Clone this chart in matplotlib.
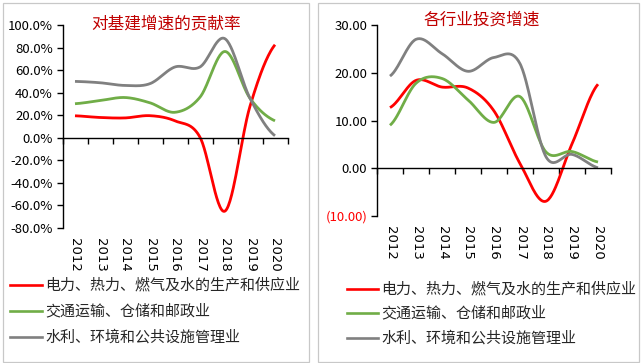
import numpy as np
import matplotlib.pyplot as plt
from matplotlib.patches import Rectangle

plt.rcParams['font.family'] = ['Noto Sans CJK SC', 'DejaVu Sans']

years = ['2012', '2013', '2014', '2015', '2016', '2017', '2018', '2019', '2020']
series_names = ['电力、热力、燃气及水的生产和供应业', '交通运输、仓储和邮政业', '水利、环境和公共设施管理业']
colors = ['#FF0000', '#70AD47', '#808080']

# contribution to infrastructure growth (%)
contrib_power = [19.5, 18.0, 17.6, 19.6, 15.0, 0.5, -65.0, 28.0, 82.5]
contrib_transport = [30.2, 33.0, 35.7, 31.0, 22.6, 36.0, 76.5, 35.0, 15.0]
contrib_water = [50.0, 48.8, 46.4, 48.0, 62.8, 62.8, 87.8, 35.0, 1.8]

# investment growth by industry
growth_power = [12.7, 18.4, 17.0, 16.8, 12.0, 1.0, -6.9, 5.1, 17.6]
growth_transport = [9.0, 17.8, 18.8, 14.3, 9.6, 15.0, 3.4, 3.5, 1.3]
growth_water = [19.3, 27.0, 24.0, 20.3, 23.2, 21.9, 2.4, 2.9, 0.1]


def smooth(y, n=30):
    # Catmull-Rom style smoothing like Excel's smoothed lines
    y = np.asarray(y, float)
    p = np.concatenate([[y[0]], y, [y[-1]]])
    xs, ys = [], []
    t = np.linspace(0, 1, n, endpoint=False)
    for i in range(len(y) - 1):
        p0, p1, p2, p3 = p[i], p[i + 1], p[i + 2], p[i + 3]
        b1 = p1 + (p2 - p0) / 6
        b2 = p2 - (p3 - p1) / 6
        yy = (1 - t) ** 3 * p1 + 3 * (1 - t) ** 2 * t * b1 + 3 * (1 - t) * t ** 2 * b2 + t ** 3 * p2
        xs.append(i + t)
        ys.append(yy)
    xs.append([len(y) - 1])
    ys.append([y[-1]])
    return np.concatenate(xs), np.concatenate(ys)


def setup(ax, ymin, ymax, step, fmt, label_y):
    ax.set_xlim(-0.5, len(years) - 0.5)
    ax.set_ylim(ymin, ymax)
    for s in ['top', 'right']:
        ax.spines[s].set_visible(False)
    ax.spines['bottom'].set_position(('data', 0))
    for s in ['left', 'bottom']:
        ax.spines[s].set_linewidth(1.0)
    ax.set_xticks(np.arange(-0.5, len(years), 1.0))
    ax.set_xticklabels([])
    ax.tick_params(axis='x', direction='out', length=4, width=1)
    ticks = np.arange(ymin, ymax + step / 2, step)
    ax.set_yticks(ticks)
    ax.set_yticklabels([fmt(v) for v in ticks])
    ax.tick_params(axis='y', direction='out', length=4, width=1, labelsize=9.5, pad=3)
    for i, yr in enumerate(years):
        ax.text(i, label_y, yr, transform=ax.get_xaxis_transform(), rotation=-90,
                ha='center', va='top', fontsize=9.5, family='DejaVu Sans')


fig = plt.figure(figsize=(6.43, 3.63), dpi=100)

# panel borders
fig.patches.append(Rectangle((3 / 643, 1 - 362 / 363), 306 / 643, 359 / 363, transform=fig.transFigure,
                             fill=False, edgecolor='#C8C8C8', lw=0.9))
fig.patches.append(Rectangle((318 / 643, 1 - 362 / 363), 321 / 643, 359 / 363, transform=fig.transFigure,
                             fill=False, edgecolor='#C8C8C8', lw=0.9))

ax1 = fig.add_axes([62.5 / 643, 1 - 228 / 363, 225 / 643, 203 / 363])
setup(ax1, -80, 100, 20, lambda v: f'{v:.1f}%', -0.05)
for vals, c in zip([contrib_power, contrib_transport, contrib_water], colors):
    xs, ys = smooth(vals)
    ax1.plot(xs, ys, color=c, lw=2.0, solid_capstyle='butt')
fig.text(166 / 643, 1 - 24 / 363, '对基建增速的贡献率', color='#C00000', fontsize=12,
         ha='center', va='center')

ax2 = fig.add_axes([377 / 643, 1 - 216 / 363, 234 / 643, 191 / 363])
setup(ax2, -10, 30, 10, lambda v: f'({abs(v):.2f})' if v < 0 else f'{v:.2f}', -0.05)
for lbl in ax2.get_yticklabels():
    if lbl.get_text().startswith('('):
        lbl.set_color('#FF0000')
for vals, c in zip([growth_power, growth_transport, growth_water], colors):
    xs, ys = smooth(vals)
    ax2.plot(xs, ys, color=c, lw=2.0, solid_capstyle='butt')
fig.text(482 / 643, 1 - 20 / 363, '各行业投资增速', color='#C00000', fontsize=12,
         ha='center', va='center')

# legends drawn as lines + text
for (x0, x1, tx, ys_px) in [(10, 42, 45, [285, 311, 337]), (347, 378, 381, [289, 313, 338])]:
    for name, c, ypx in zip(series_names, colors, ys_px):
        yf = 1 - ypx / 363
        fig.add_artist(plt.Line2D([x0 / 643, x1 / 643], [yf, yf], color=c, lw=1.9,
                                  transform=fig.transFigure))
        fig.text(tx / 643, yf, name, fontsize=10.8, ha='left', va='center', color='#262626')

fig.savefig('out.png', dpi=100)
